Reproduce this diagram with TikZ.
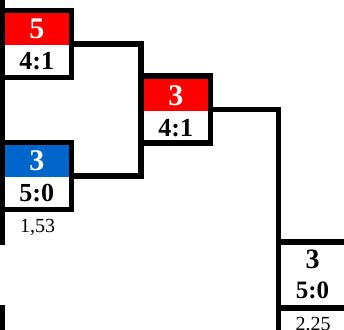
\documentclass[tikz,border=0pt]{standalone}
\usepackage{fontspec}
\setmainfont{Liberation Serif}
\definecolor{seedred}{HTML}{FF0000}
\definecolor{seedblue}{HTML}{0066CC}
\tikzset{
  box/.style={draw=black, line width=5.5pt, fill=white, minimum width=69.5pt, minimum height=67pt, inner sep=0pt, outer sep=0pt},
  seedfill/.style={fill=#1, draw=none, minimum width=64pt, minimum height=32pt, inner sep=0pt, outer sep=0pt},
  wire/.style={draw=black, line width=5.5pt},
  seedtxt/.style={text=white, font=\fontsize{30}{30}\selectfont\bfseries, anchor=base, inner sep=0pt},
  scoretxt/.style={text=black, font=\fontsize{26}{26}\selectfont\bfseries, anchor=base, inner sep=0pt},
  timetxt/.style={text=black, font=\fontsize{20}{20}\selectfont, anchor=base, inner sep=0pt},
}
\begin{document}
\begin{tikzpicture}[x=1pt, y=-1pt]
\useasboundingbox (0,0) rectangle (344,329);
% left rail
\coordinate (l0) at (2,-6);
\coordinate (l1) at (2,245);
\coordinate (l2) at (2,305);
\coordinate (l3) at (2,336);
\draw[wire] (l0) -- (l1);
\draw[wire] (l2) -- (l3);
% boxes
\node[box] (b1) at (36.75,44) {};
\node[seedfill=seedred, anchor=north] (b1s) at (36.75,13) {};
\node[seedtxt] (b1t) at (36.75,38.3) {5};
\node[scoretxt] (b1r) at (36.75,69.3) {4:1};

\node[box] (b2) at (36.75,176) {};
\node[seedfill=seedblue, anchor=north] (b2s) at (36.75,145) {};
\node[seedtxt] (b2t) at (36.75,170) {3};
\node[scoretxt] (b2r) at (36.75,201.5) {5:0};
\node[timetxt] (b2m) at (37.5,232) {1,53};

\node[box] (b3) at (175.75,109.25) {};
\node[seedfill=seedred, anchor=north] (b3s) at (175.75,79) {};
\node[seedtxt] (b3t) at (175.75,105) {3};
\node[scoretxt] (b3r) at (175.75,136.5) {4:1};

% connectors
\coordinate (c1) at (141,0);
\draw[wire] (b1.east) -| (c1 |- b3.west);
\draw[wire] (b2.east) -| (c1 |- b3.west);
\coordinate (c2) at (278.5,336);
\draw[wire] (b3.east) -| (c2);

\node[box, minimum height=66pt] (b4) at (313.25,275) {};
\node[text=black, font=\fontsize{28}{28}\selectfont\bfseries, anchor=base, inner sep=0pt] (b4t) at (312.5,268) {3};
\node[scoretxt, font=\fontsize{25}{25}\selectfont\bfseries] (b4r) at (312.5,298.5) {5:0};
\node[timetxt] (b4m) at (313,330) {2,25};
\end{tikzpicture}
\end{document}
